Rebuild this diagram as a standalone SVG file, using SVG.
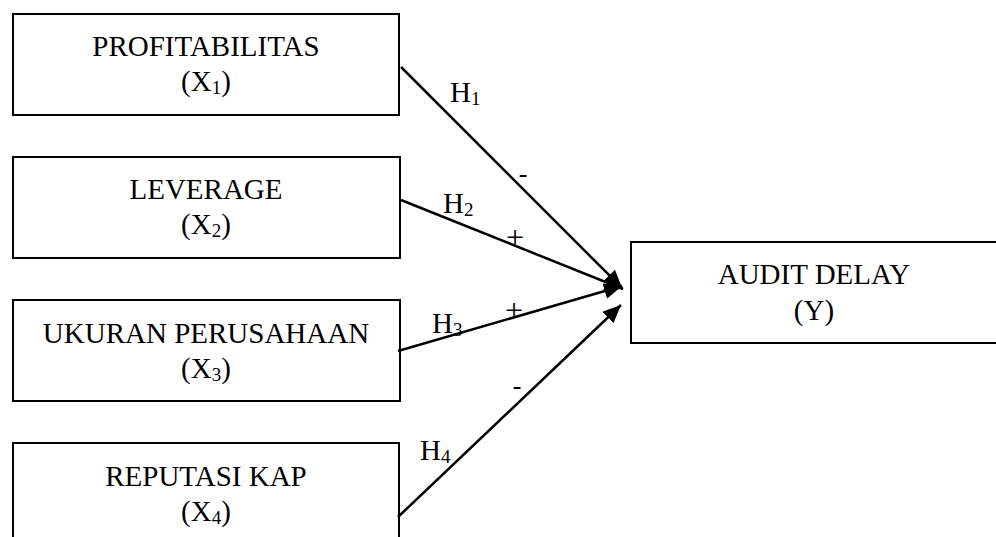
<svg xmlns="http://www.w3.org/2000/svg" width="996" height="537" viewBox="0 0 996 537">
<style>
.box{fill:#fff;stroke:#000;stroke-width:2}
.t{font-family:"Liberation Serif","Times New Roman",serif;font-size:29px;fill:#000;text-anchor:middle}
.sub{font-size:19px}
.lbl{font-family:"Liberation Serif","Times New Roman",serif;font-size:29px;fill:#000}
.sg{font-family:"Liberation Serif","Times New Roman",serif;font-size:26px;fill:#000;text-anchor:middle}
.pl{font-size:32px}
.c{stroke:#000;stroke-width:2.5;fill:none;marker-end:url(#ah)}
</style>
<defs>
<marker id="ah" markerUnits="userSpaceOnUse" markerWidth="20" markerHeight="16" refX="18" refY="8" orient="auto">
<path d="M0,0 L18,8 L0,16 Z" fill="#000"/>
</marker>
</defs>
<g id="x1">
<rect class="box" x="13" y="14" width="386" height="101"/>
<text class="t" x="206" y="56">PROFITABILITAS</text>
<text class="t" x="206" y="91">(X<tspan class="sub" dy="3">1</tspan><tspan dy="-3">)</tspan></text>
</g>
<g id="x2">
<rect class="box" x="13" y="157" width="387" height="101"/>
<text class="t" x="206" y="199">LEVERAGE</text>
<text class="t" x="206" y="234">(X<tspan class="sub" dy="3">2</tspan><tspan dy="-3">)</tspan></text>
</g>
<g id="x3">
<rect class="box" x="13" y="300" width="387" height="101"/>
<text class="t" x="206" y="343">UKURAN PERUSAHAAN</text>
<text class="t" x="206" y="378">(X<tspan class="sub" dy="3">3</tspan><tspan dy="-3">)</tspan></text>
</g>
<g id="x4">
<rect class="box" x="13" y="443" width="386" height="110"/>
<text class="t" x="206" y="486">REPUTASI KAP</text>
<text class="t" x="206" y="521">(X<tspan class="sub" dy="3">4</tspan><tspan dy="-3">)</tspan></text>
</g>
<g id="y">
<rect class="box" x="631" y="242" width="380" height="101"/>
<text class="t" x="814" y="284">AUDIT DELAY</text>
<text class="t" x="814" y="320">(Y)</text>
</g>
<g id="connectors">
<line class="c" x1="401" y1="67" x2="622" y2="288"/>
<line class="c" x1="401" y1="200" x2="623" y2="289"/>
<line class="c" x1="398" y1="351" x2="622" y2="286"/>
<line class="c" x1="398" y1="517" x2="621" y2="305"/>
<text class="lbl" x="450" y="102">H<tspan class="sub" dy="3">1</tspan></text>
<text class="sg" x="523" y="182">-</text>
<text class="lbl" x="443" y="213">H<tspan class="sub" dy="3">2</tspan></text>
<text class="sg pl" x="515" y="248">+</text>
<text class="lbl" x="432" y="333">H<tspan class="sub" dy="3">3</tspan></text>
<text class="sg pl" x="514" y="321">+</text>
<text class="lbl" x="420" y="460">H<tspan class="sub" dy="3">4</tspan></text>
<text class="sg" x="517" y="394">-</text>
</g>
</svg>
